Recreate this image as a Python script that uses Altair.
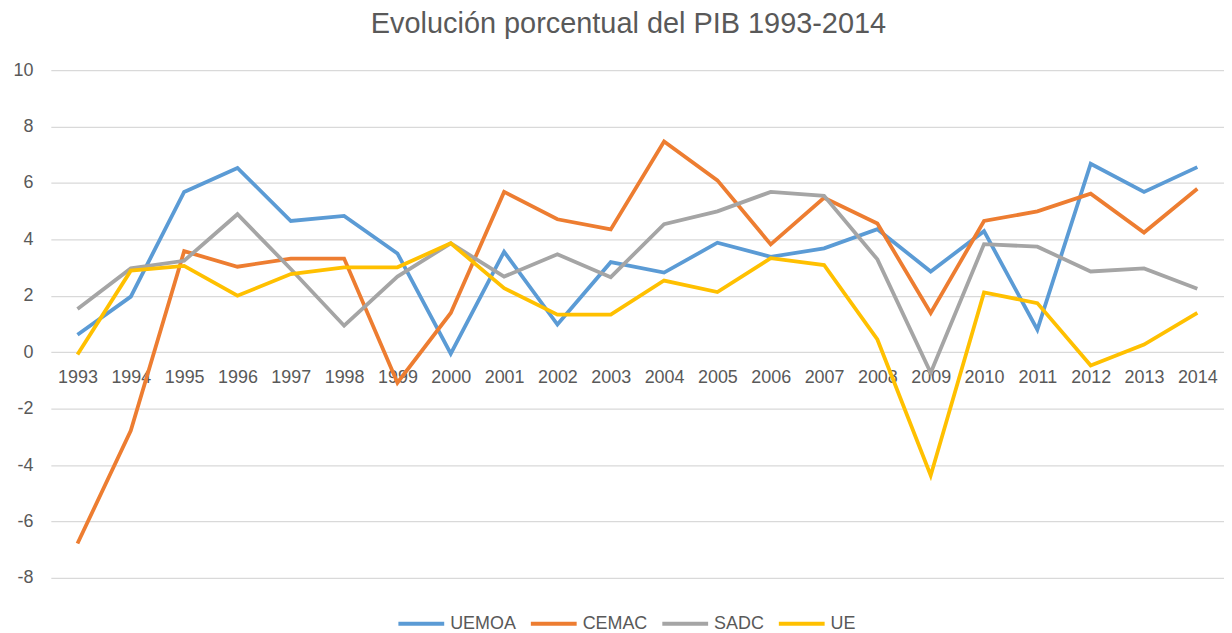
import altair as alt
import pandas as pd

years = [str(y) for y in range(1993, 2015)]
series = ["UEMOA", "CEMAC", "SADC", "UE"]
colors = ["#5B9BD5", "#ED7D31", "#A5A5A5", "#FFC000"]

uemoa = [0.62, 1.97, 5.68, 6.53, 4.65, 4.83, 3.50, -0.05, 3.56, 0.98, 3.19,
         2.82, 3.88, 3.38, 3.68, 4.36, 2.86, 4.29, 0.80, 6.68, 5.68, 6.56]
cemac = [-6.78, -2.78, 3.58, 3.03, 3.32, 3.32, -1.08, 1.39, 5.68, 4.71, 4.35,
         7.47, 6.09, 3.82, 5.47, 4.56, 1.39, 4.65, 4.99, 5.62, 4.24, 5.79]
sadc = [1.53, 2.97, 3.24, 4.89, 2.95, 0.94, 2.68, 3.86, 2.68, 3.47, 2.66,
        4.54, 4.99, 5.68, 5.54, 3.29, -0.73, 3.83, 3.74, 2.86, 2.97, 2.25]
ue = [-0.08, 2.89, 3.06, 2.00, 2.77, 3.01, 3.01, 3.86, 2.27, 1.33, 1.33,
      2.54, 2.13, 3.33, 3.09, 0.45, -4.37, 2.12, 1.74, -0.47, 0.27, 1.39]

values = {"UEMOA": uemoa, "CEMAC": cemac, "SADC": sadc, "UE": ue}
rows = []
for s in series:
    for yr, v in zip(years, values[s]):
        rows.append({"Año": yr, "Serie": s, "Valor": v, "orden": series.index(s)})
df = pd.DataFrame(rows)

FONT = "Liberation Sans"
GREY = "#595959"

chart = alt.Chart(df).mark_line(strokeWidth=3.8).encode(
    x=alt.X("Año:O", sort=years,
            scale=alt.Scale(type="point", padding=0.5),
            axis=alt.Axis(title=None, orient="bottom", offset=-226.3, labelAngle=0,
                          domain=False, ticks=False, grid=False, labelPadding=16,
                          labelFont=FONT, labelFontSize=18, labelColor=GREY)),
    y=alt.Y("Valor:Q",
            scale=alt.Scale(domain=[-8, 10], nice=False, zero=False),
            axis=alt.Axis(title=None, values=list(range(-8, 11, 2)), domain=False,
                          ticks=False, labelPadding=18, gridColor="#D9D9D9",
                          gridWidth=1.2, labelFont=FONT, labelFontSize=18,
                          labelColor=GREY,
                          labelExpr="datum.value < 0 ? '-' + abs(datum.value) : '' + datum.value")),
    color=alt.Color("Serie:N",
                    scale=alt.Scale(domain=series, range=colors),
                    legend=alt.Legend(title=None, orient="none", direction="horizontal",
                                      legendX=347, legendY=531, symbolType="stroke",
                                      symbolSize=2116, symbolStrokeWidth=3.8,
                                      labelFont=FONT, labelFontSize=18,
                                      labelColor=GREY, labelOffset=4,
                                      columnPadding=6)),
    order=alt.Order("orden:Q"),
).properties(
    width=1178,
    height=510,
    title=alt.TitleParams("Evolución porcentual del PIB 1993-2014", font=FONT,
                          fontSize=29, fontWeight="normal", color=GREY,
                          anchor="middle", dx=-9, offset=22),
    autosize=alt.AutoSizeParams(type="none"),
    padding={"left": 43, "top": 61, "right": 0, "bottom": 54},
).configure_view(stroke=None)

chart.save("out.html", embed_options={"renderer": "svg", "actions": False})
